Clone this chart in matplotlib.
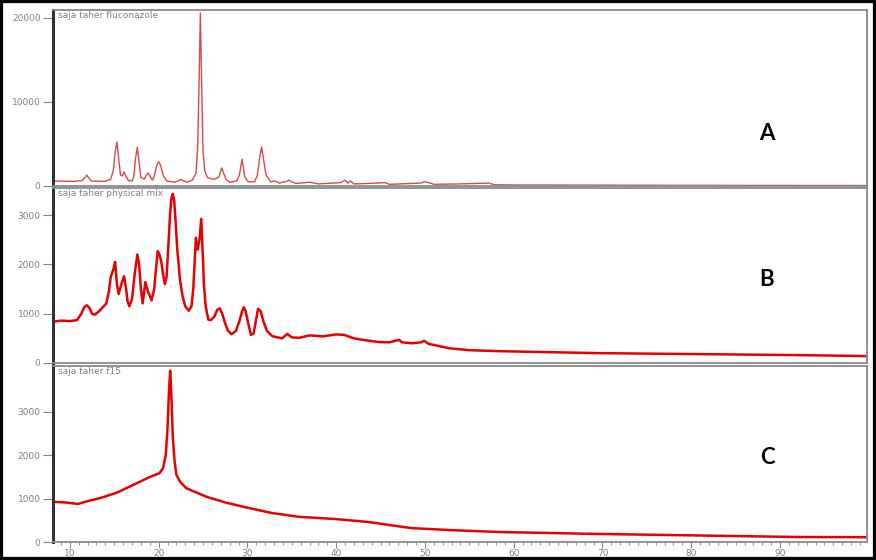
import matplotlib
matplotlib.use("Agg")
import matplotlib.pyplot as plt
from matplotlib.patches import Rectangle
from matplotlib.ticker import MultipleLocator

# ---- data (2-theta, counts) ----
a_x = [8.1, 10.5, 11.4, 11.7, 11.9, 12.1, 12.4, 14.0, 14.6, 14.9, 15.1, 15.3, 15.5, 15.7,
       15.9, 16.1, 16.3, 16.6, 17.0, 17.2, 17.4, 17.6, 17.8, 18.0, 18.4, 18.6, 18.8, 19.0,
       19.3, 19.5, 19.8, 20.0, 20.2, 20.5, 20.9, 21.8, 22.3, 22.5, 22.7, 23.2, 23.8, 24.2,
       24.4, 24.55, 24.7, 24.85, 25.0, 25.2, 25.5, 26.2, 26.5, 26.8, 27.0, 27.1, 27.3, 27.6,
       28.0, 28.8, 29.1, 29.3, 29.4, 29.5, 29.7, 30.1, 30.8, 31.1, 31.4, 31.6, 31.8, 32.1,
       32.6, 33.1, 33.6, 34.4, 34.7, 35.0, 35.5, 37.0, 38.0, 40.5, 41.0, 41.3, 41.6, 42.0,
       43.5, 45.5, 46.0, 49.5, 50.0, 50.6, 51.0, 54.0, 57.2, 57.8, 60.0, 70.0, 80.0, 99.8]
a_y = [600, 550, 650, 1000, 1300, 1000, 600, 550, 800, 1900, 4000, 5240, 3300, 1300,
       1200, 1670, 1200, 650, 600, 1100, 3300, 4640, 2800, 1000, 800, 1300, 1550, 1200,
       700, 1100, 2500, 2900, 2500, 1300, 600, 450, 650, 800, 650, 450, 700, 1500,
       4500, 12000, 20600, 12000, 4200, 1800, 1000, 800, 900, 1100, 1800, 2150, 1600, 800,
       450, 600, 1300, 2600, 3200, 2500, 1100, 500, 500, 1200, 3500, 4650, 3300, 1300,
       500, 600, 350, 550, 700, 500, 300, 450, 250, 400, 700, 350, 600, 250,
       300, 400, 200, 350, 500, 350, 200, 250, 350, 150, 120, 100, 80, 60]

b_x = [8.1, 9.0, 10.0, 10.8, 11.3, 11.6, 11.9, 12.2, 12.5, 12.8, 13.3, 14.1, 14.4, 14.6,
       14.9, 15.1, 15.3, 15.5, 15.8, 16.1, 16.3, 16.5, 16.7, 17.0, 17.3, 17.6, 17.8, 18.0,
       18.2, 18.5, 18.8, 19.2, 19.5, 19.7, 19.9, 20.1, 20.3, 20.5, 20.7, 20.9, 21.1, 21.3,
       21.45, 21.6, 21.75, 21.9, 22.1, 22.4, 22.7, 23.0, 23.4, 23.7, 23.9, 24.1, 24.2, 24.4,
       24.6, 24.8, 24.95, 25.1, 25.3, 25.6, 25.9, 26.3, 26.6, 26.9, 27.2, 27.5, 27.8, 28.2,
       28.7, 29.1, 29.4, 29.6, 29.8, 30.1, 30.4, 30.7, 31.0, 31.2, 31.5, 31.8, 32.2, 32.8,
       33.4, 33.9, 34.5, 35.0, 35.8, 37.0, 38.5, 40.0, 40.9, 42.0, 43.0, 44.8, 46.0, 47.1,
       47.4, 48.5, 49.6, 49.9, 50.4, 52.7, 55.0, 58.3, 63.9, 69.6, 80.8, 92.0, 99.8]
b_y = [835, 860, 850, 870, 1000, 1130, 1170, 1120, 1000, 980, 1050, 1210, 1450, 1745,
       1900, 2050, 1600, 1400, 1600, 1760, 1550, 1250, 1150, 1300, 1800, 2200, 2000, 1500,
       1210, 1640, 1450, 1270, 1500, 1900, 2270, 2200, 2050, 1800, 1600, 1750, 2400, 3050,
       3350, 3430, 3300, 2900, 2300, 1700, 1350, 1150, 1060, 1150, 1500, 2200, 2540, 2300,
       2500, 2925, 2300, 1600, 1150, 880, 870, 950, 1080, 1110, 980, 800, 660, 585,
       650, 850, 1050, 1130, 1050, 800, 570, 600, 900, 1100, 1050, 850, 650, 545,
       520, 500, 590, 520, 510, 560, 540, 580, 570, 500, 470, 425, 420, 470,
       420, 400, 420, 450, 390, 300, 260, 240, 220, 200, 180, 160, 140]

c_x = [8.1, 9.5, 10.9, 12.0, 13.4, 15.3, 17.1, 19.0, 20.1, 20.5, 20.8, 21.0, 21.15, 21.3,
       21.45, 21.6, 21.8, 22.0, 22.4, 23.1, 25.4, 27.6, 30.2, 32.8, 35.8, 39.8, 42.6, 44.0,
       46.0, 48.5, 52.7, 58.3, 69.6, 80.8, 92.0, 99.8]
c_y = [925, 910, 875, 940, 1010, 1135, 1310, 1495, 1585, 1700, 2000, 2600, 3400, 3940,
       3300, 2400, 1850, 1550, 1390, 1240, 1040, 905, 780, 665, 580, 530, 480, 450,
       390, 320, 275, 230, 185, 150, 115, 110]

panel_titles = ["saja taher fluconazole", "saja taher physical mix", "saja taher f15"]
panel_letters = ["A", "B", "C"]
y_ticks = [[0, 10000, 20000], [0, 1000, 2000, 3000], [0, 1000, 2000, 3000]]
y_limits = [20950, 3550, 4050]
x_ticks = [10, 20, 30, 40, 50, 60, 70, 80, 90]

W, H = 876, 560
fig = plt.figure(figsize=(W / 100, H / 100), dpi=100)

L, R = 53 / W, 867 / W
boxes = [(10, 186), (188, 363), (366, 542)]
series = [(a_x, a_y), (b_x, b_y), (c_x, c_y)]
colors = ["#d64b4b", "#e60000", "#e60000"]
widths = [1.0, 1.8, 1.8]
letter_y = [133, 279, 458]

for i, ((top, bot), (xs, ys)) in enumerate(zip(boxes, series)):
    ax = fig.add_axes([L, 1 - bot / H, R - L, (bot - top) / H])
    ax.plot(xs, ys, color=colors[i], lw=widths[i], solid_joinstyle="round")
    ax.set_xlim(8.1, 99.8)
    ax.set_ylim(0, y_limits[i])
    ax.set_yticks(y_ticks[i])
    ax.set_yticklabels([str(v) for v in y_ticks[i]], fontsize=6.5, color="#808080")
    ax.tick_params(axis="y", direction="out", length=7, width=0.8, color="#888888", pad=2)
    for s in ["top", "right", "bottom"]:
        ax.spines[s].set_color("#8a8a8a")
        ax.spines[s].set_linewidth(1.3)
    ax.spines["left"].set_color("#333333")
    ax.spines["left"].set_linewidth(2.2)
    if i == 2:
        ax.set_xticks(x_ticks)
        ax.set_xticklabels([str(v) for v in x_ticks], fontsize=6.5, color="#808080")
        ax.xaxis.set_minor_locator(MultipleLocator(1))
        ax.tick_params(axis="x", which="major", direction="out", length=4, width=0.8,
                       color="#888888", pad=1)
        ax.tick_params(axis="x", which="minor", direction="out", length=2, width=0.8,
                       color="#999999")
    else:
        ax.set_xticks([])
    ax.text(0.006, 0.995, panel_titles[i], transform=ax.transAxes, ha="left", va="top",
            fontsize=6.5, color="#808080")
    fig.text(767 / W, 1 - letter_y[i] / H, panel_letters[i], ha="center", va="center",
             fontsize=16, fontweight="bold", family="Lato", color="black")

fig.patches.append(Rectangle((0, 0), 1, 1, transform=fig.transFigure, fill=False,
                             edgecolor="black", linewidth=4.5, zorder=10))

fig.savefig("out.png", dpi=100)
